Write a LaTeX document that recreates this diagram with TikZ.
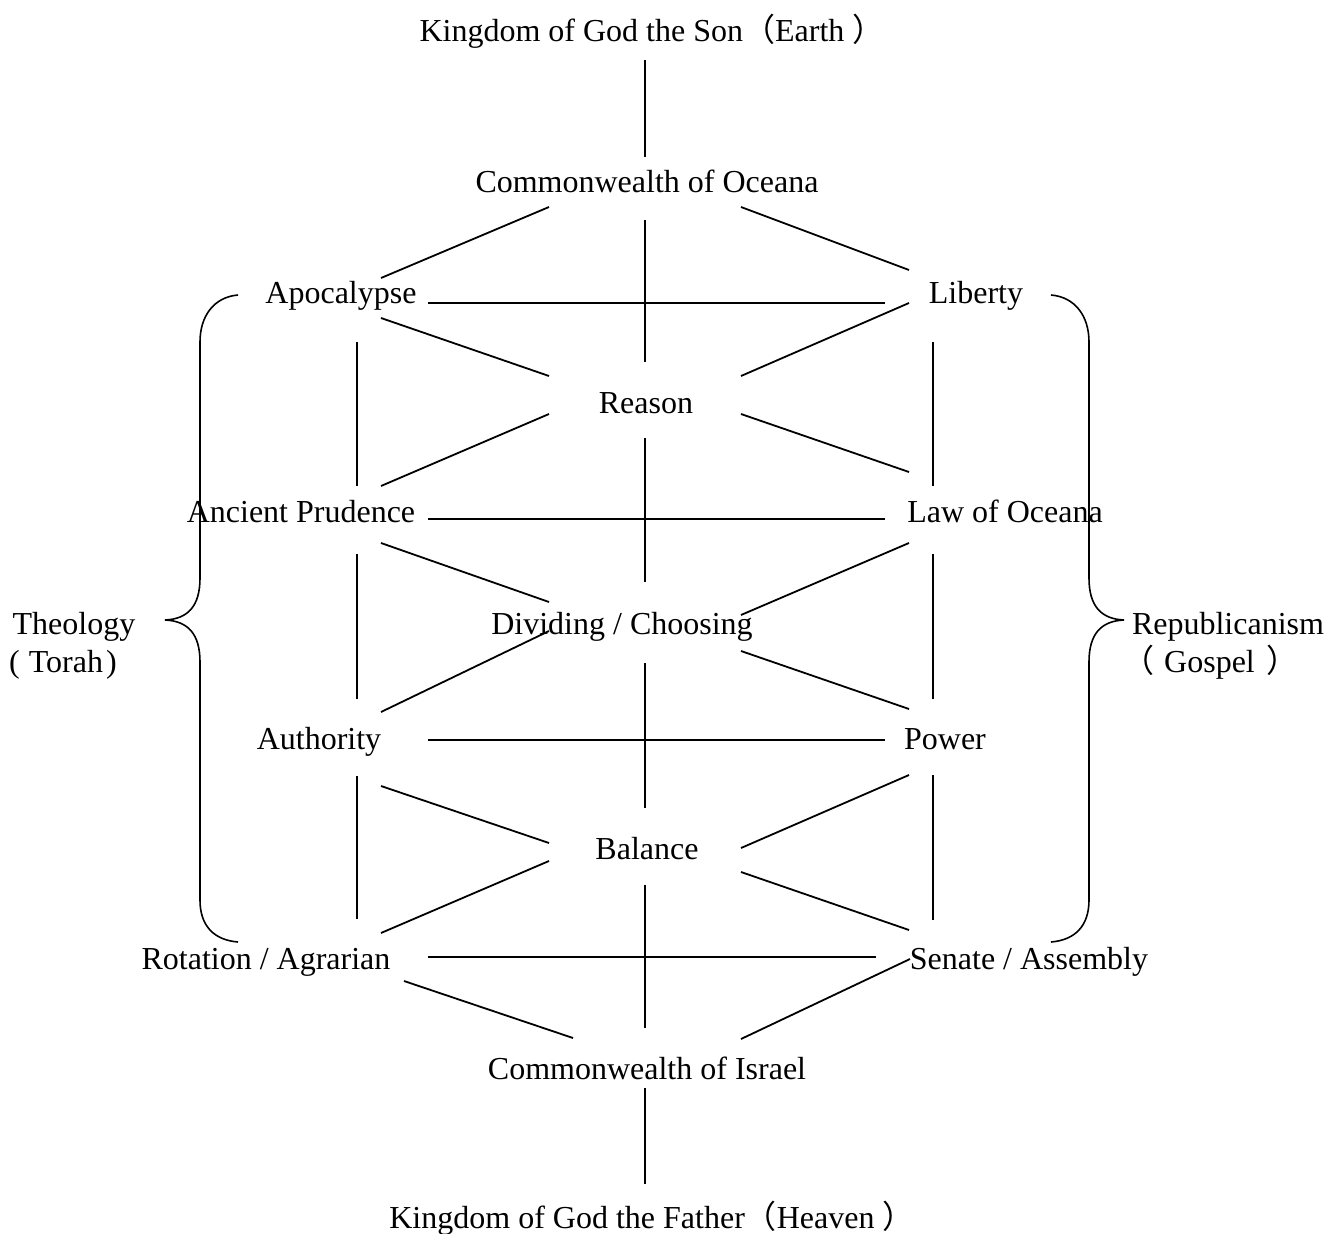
\documentclass[tikz,border=0pt]{standalone}
\usepackage{fontspec}
\setmainfont{Liberation Serif}
\newfontfamily\cjkfont{Noto Sans CJK SC}
\newcommand\fwlp{{\cjkfont （}}
\newcommand\fwrp{{\cjkfont ）}}
\usetikzlibrary{calc}
\tikzset{
  lbl/.style={inner sep=0pt, anchor=base, font=\fontsize{32}{38}\selectfont},
  link/.style={line width=1.8pt, black},
  bracepath/.style={line width=1.6pt, black},
}
\newcommand\seg[4]{\draw[link] ($(#1.base)+(#2)$) -- ($(#3.base)+(#4)$);}
\begin{document}
\begin{tikzpicture}[x=1pt,y=-1pt]
\useasboundingbox (0,0) rectangle (1331,1234);
% nodes
\node[lbl] (son) at (652,41) {Kingdom of God the Son\fwlp Earth\kern8pt\fwrp};
\node[lbl] (oce) at (647,192) {Commonwealth of Oceana};
\node[lbl] (apo) at (341,303) {Apocalypse};
\node[lbl] (lib) at (976,303) {Liberty};
\node[lbl] (rea) at (646,413) {Reason};
\node[lbl] (anc) at (301,522) {Ancient Prudence};
\node[lbl] (law) at (1005,522) {Law of Oceana};
\node[lbl] (div) at (622,634) {Dividing / Choosing};
\node[lbl] (aut) at (319,749) {Authority};
\node[lbl] (pow) at (945,749) {Power};
\node[lbl] (bal) at (647,859) {Balance};
\node[lbl] (rot) at (266,969) {Rotation / Agrarian};
\node[lbl] (sen) at (1029,969) {Senate / Assembly};
\node[lbl] (isr) at (647,1079) {Commonwealth of Israel};
\node[lbl] (fat) at (652,1228) {Kingdom of God the Father\fwlp Heaven\kern8pt\fwrp};
\node[lbl] (theo) at (74,634) {Theology};
\node[lbl, anchor=base west] (torah) at (9,672) {(\kern9pt Torah\kern3pt)};
\node[lbl] (rep) at (1228,634) {Republicanism};
\node[lbl, anchor=base west] (gos) at (1122,672) {\fwlp\kern10pt Gospel\kern12pt\fwrp};
% central spine
\seg{son}{-7,19}{oce}{-2,-35}
\seg{oce}{-2,28}{rea}{-1,-51}
\seg{rea}{-1,25}{div}{23,-52}
\seg{div}{23,29}{bal}{-2,-51}
\seg{bal}{-2,26}{isr}{-2,-51}
\seg{isr}{-2,9}{fat}{-7,-44}
% lattice
\seg{oce}{-98,15}{apo}{40,-25}
\seg{oce}{94,15}{lib}{-67,-33}
\seg{apo}{87,0}{lib}{-91,0}
\seg{apo}{40,15}{rea}{-97,-37}
\seg{lib}{-67,0}{rea}{95,-37}
\seg{rea}{-97,1}{anc}{80,-36}
\seg{rea}{95,1}{law}{-96,-50}
\seg{apo}{16,39}{anc}{56,-36}
\seg{lib}{-43,39}{law}{-72,-36}
\seg{anc}{127,-3}{law}{-120,-3}
\seg{anc}{80,21}{div}{-73,-32}
\seg{law}{-96,21}{div}{119,-19}
\seg{div}{-73,-3}{aut}{62,-37}
\seg{div}{119,17}{pow}{-36,-40}
\seg{anc}{56,32}{aut}{38,-50}
\seg{law}{-72,32}{pow}{-12,-50}
\seg{aut}{109,-9}{pow}{-60,-9}
\seg{aut}{62,37}{bal}{-98,-16}
\seg{pow}{-36,26}{bal}{94,-11}
\seg{aut}{38,27}{rot}{91,-50}
\seg{pow}{-12,26}{sen}{-96,-49}
\seg{bal}{-98,2}{rot}{115,-36}
\seg{bal}{94,13}{sen}{-120,-39}
\seg{rot}{162,-12}{sen}{-153,-12}
\seg{rot}{138,12}{isr}{-74,-41}
\seg{sen}{-119,-10}{isr}{94,-40}
% braces
\draw[bracepath] (238,295) .. controls (214,297) and (200,316) .. (200,342)
  -- (200,578) .. controls (200,606) and (188,619) .. (165,620)
  .. controls (188,621) and (200,634) .. (200,662)
  -- (200,900) .. controls (200,926) and (214,940) .. (238,942);
\draw[bracepath] (1051,295) .. controls (1075,297) and (1089,316) .. (1089,342)
  -- (1089,578) .. controls (1089,606) and (1101,619) .. (1124,620)
  .. controls (1101,621) and (1089,634) .. (1089,662)
  -- (1089,900) .. controls (1089,926) and (1075,940) .. (1051,942);
\end{tikzpicture}
\end{document}
